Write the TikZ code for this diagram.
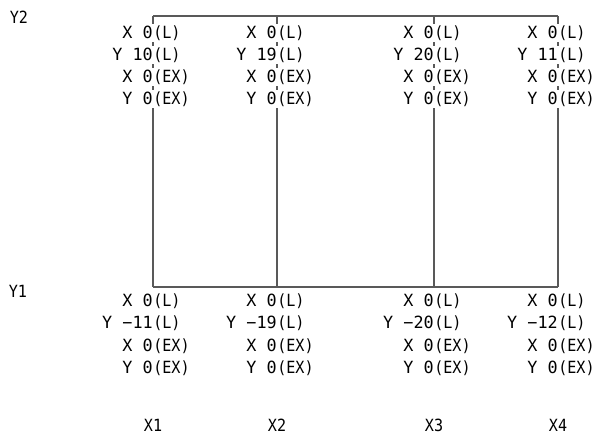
\documentclass[tikz,border=0pt]{standalone}
\usepackage{fontspec}
\setmainfont{DejaVu Sans Mono}[FakeStretch=0.9]
\newfontfamily\lfont{DejaVu Sans Mono}
\begin{document}
\begin{tikzpicture}[x=0.75pt,y=-0.75pt,
  txt/.style={inner sep=0pt, font=\fontsize{12.6}{14}\selectfont},
  cell/.style={txt, fill=white, text height=10.8pt, text depth=3pt},
  lcell/.style={cell, anchor=east, font=\fontsize{12.6}{14}\lfont},
  rcell/.style={cell, anchor=west},
  ln/.style={draw=black!65, line width=0.8pt}]
\useasboundingbox (0,0) rectangle (596,435);
% frame corners
\foreach \i/\x in {1/153,2/277,3/434,4/558}{
  \coordinate (t\i) at (\x,16);
  \coordinate (b\i) at (\x,287);
}
\draw[ln] (t1) -- (t4);
\draw[ln] (b1) -- (b4);
\foreach \i in {1,...,4}{ \draw[ln] (t\i) -- (b\i); }
% axis labels
\node[txt] (y2) at (19,17) {Y2};
\node[txt] (y1) at (18,291) {Y1};
\foreach \i in {1,...,4}{ \path (b\i) ++(0,138) node[txt] (x\i) {X\i}; }
% top values
\foreach \i/\v in {1/10,2/19,3/20,4/11}{
  \path (t\i) ++(0,17) node[lcell] (tl1\i) {X 0} node[rcell] (tr1\i) {(L)};
  \path (t\i) ++(0,39) node[lcell] (tl2\i) {Y \v} node[rcell] (tr2\i) {(L)};
  \path (t\i) ++(0,61) node[lcell] (tl3\i) {X 0} node[rcell] (tr3\i) {(EX)};
  \path (t\i) ++(0,83) node[lcell] (tl4\i) {Y 0} node[rcell] (tr4\i) {(EX)};
}
% bottom values
\foreach \i/\v in {1/11,2/19,3/20,4/12}{
  \path (b\i) ++(0,14) node[lcell] (bl1\i) {X 0} node[rcell] (br1\i) {(L)};
  \path (b\i) ++(0,36) node[lcell] (bl2\i) {Y −\v} node[rcell] (br2\i) {(L)};
  \path (b\i) ++(0,59) node[lcell] (bl3\i) {X 0} node[rcell] (br3\i) {(EX)};
  \path (b\i) ++(0,81) node[lcell] (bl4\i) {Y 0} node[rcell] (br4\i) {(EX)};
}
\end{tikzpicture}
\end{document}
